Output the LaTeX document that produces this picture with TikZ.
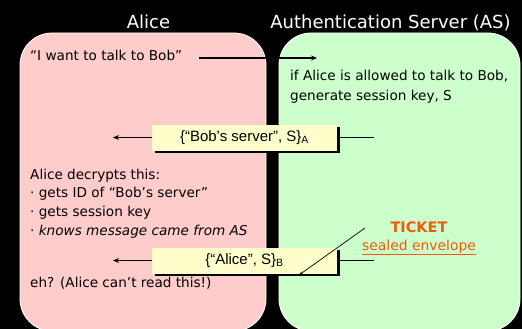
\documentclass[tikz,border=0pt]{standalone}
\usepackage{fontspec}
\setmainfont{DejaVu Sans}
\newfontfamily\boxfont{Liberation Sans}
\usepackage{tikz}
\usetikzlibrary{arrows.meta, positioning, shadows}
\definecolor{alicebg}{HTML}{FFCCCC}
\definecolor{serverbg}{HTML}{CCFFCC}
\definecolor{msgbg}{HTML}{FFFFCC}
\definecolor{ticketorange}{HTML}{F05A0A}

\tikzset{
  panel/.style={draw=white, line width=0.8pt, rounded corners=32pt},
  title/.style={anchor=base, inner sep=0pt, text=white, font=\fontsize{18}{22}\selectfont},
  note/.style={anchor=base west, inner sep=0pt, align=left, font=\fontsize{13.6}{18.6}\selectfont},
  msgbox/.style={fill=msgbg, minimum width=185pt, minimum height=26pt, inner sep=0pt,
    font=\boxfont\fontsize{15}{18}\selectfont,
    drop shadow={shadow xshift=2.5pt, shadow yshift=-2.5pt, fill=black, opacity=1}},
  flow/.style={line width=1.2pt, -{Stealth[length=6pt, width=5pt]}},
}

\begin{document}
\begin{tikzpicture}[x=1pt, y=-1pt]
\fill[black] (0,0) rectangle (522,329);
\useasboundingbox (0,0) rectangle (522,329);

% the two parties
\draw[panel, fill=alicebg] (20,33) rectangle (266,331);
\draw[panel, fill=serverbg] (279,33) rectangle (520,331);
\node[title] (alice) at (148.5,29) {Alice};
\node[title] (server) at (390.5,29) {Authentication Server (AS)};

% request
\node[note] (request) at (30,60) {“I want to talk to Bob”};
\coordinate (reqstart) at (199,58);
\coordinate (reqend) at (317,58);
\draw[flow] (reqstart) -- (reqend);
% base of a two-line note is its last line
\node[note, font=\fontsize{13.6}{20}\selectfont] (check) at (290,100) {if Alice is allowed to talk to Bob,\\generate session key, S};

% reply for Alice
\node[msgbox] (replyA) at (244.5,137.5) {\{“Bob’s server”, S\}\textsubscript{A}};
\coordinate (serverA) at (374,137.5);
\coordinate (aliceA) at (113,137.5);
\draw[line width=1.2pt] (serverA) -- (replyA.east);
\draw[flow] (replyA.west) -- (aliceA);
\node[note] (decrypt) at (30,235.1) {Alice decrypts this:\\· gets ID of “Bob’s server”\\· gets session key\\· \textit{knows message came from AS}};

% ticket for Bob
\node[msgbox] (replyB) at (244.5,260.5) {\{“Alice”, S\}\textsubscript{B}};
\coordinate (serverB) at (374,260.5);
\coordinate (aliceB) at (113,260.5);
\draw[line width=1.2pt] (serverB) -- (replyB.east);
\draw[flow] (replyB.west) -- (aliceB);
\node[note] (eh) at (30,287) {eh? (Alice can’t read this!)};

\node[anchor=base, inner sep=0pt, text=ticketorange, font=\fontsize{14.5}{18}\selectfont\bfseries] (ticket) at (419,232) {TICKET};
\node[anchor=base, inner sep=0pt, text=ticketorange, font=\fontsize{13.9}{18}\selectfont] (envelope) at (419,250) {\underline{sealed envelope}};
\coordinate (envtail) at (365,228);
\coordinate (envtip) at (299,275);
\draw[line width=0.7pt, -{Stealth[length=4pt, width=3pt]}] (envtail) -- (envtip);
\end{tikzpicture}
\end{document}
